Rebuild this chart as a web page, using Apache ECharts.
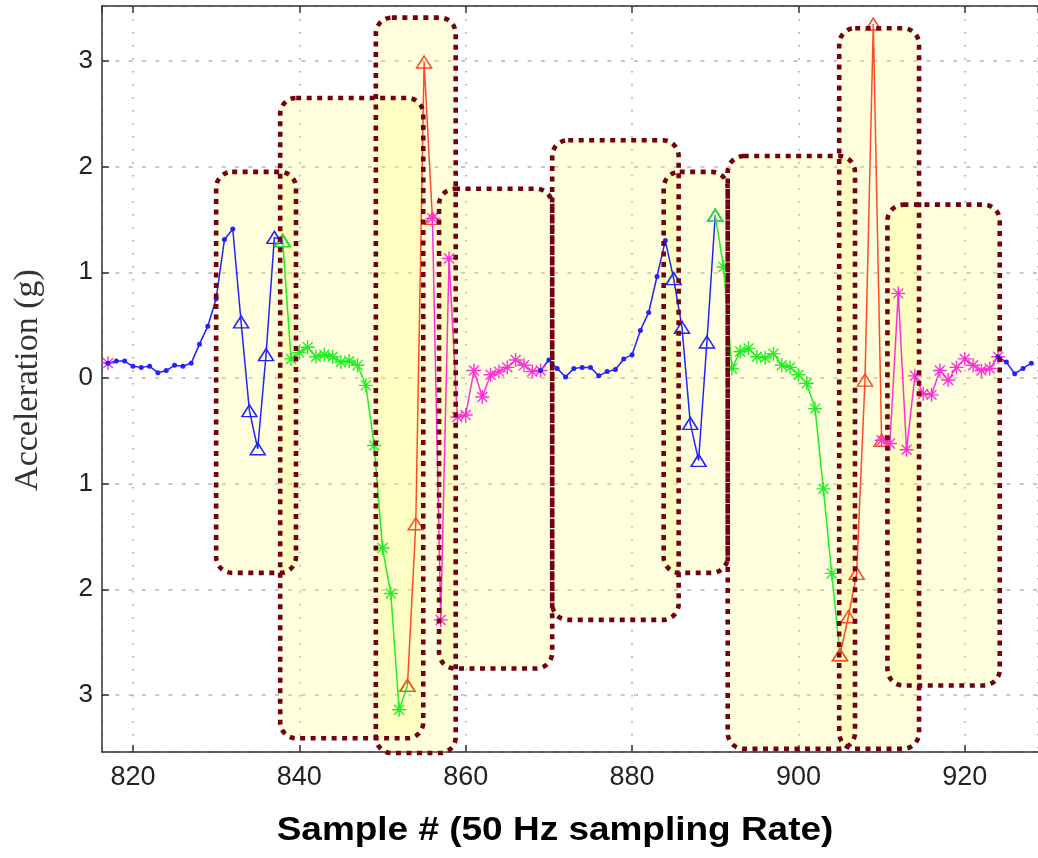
<!DOCTYPE html>
<html><head><meta charset="utf-8">
<script src="https://cdn.jsdelivr.net/npm/echarts@6/dist/echarts.min.js"></script>
<style>html,body{margin:0;padding:0;background:#fff}#c{width:1038px;height:858px}</style>
</head><body><div id="c"></div>
<script>
// ---- data: acceleration (g) per sample index, each segment starts at its *Start sample ----
const magenta0Start = 816;
const magenta0 = [0.15, 0.14];
const blueDotsAStart = 817;
const blueDotsA = [0.14, 0.16, 0.16, 0.11, 0.10, 0.11, 0.05, 0.07, 0.12, 0.11, 0.14, 0.32, 0.49, 0.75, 1.31, 1.41];
const blueTriAStart = 833;
const blueTriA = [0.53, -0.31, -0.67, 0.22, 1.33, 1.30];
const greenAStart = 838;
const greenA = [1.30, 0.18, 0.24, 0.29, 0.20, 0.22, 0.20, 0.15, 0.16, 0.12, -0.07, -0.64, -1.61, -2.04, -3.14, -2.91];
const redAStart = 853;
const redA = [-2.91, -1.38, 2.99, 1.51];
const magentaAStart = 856;
const magentaA = [1.51, -2.29, 1.13, -0.37, -0.35, 0.07, -0.18, 0.03, 0.06, 0.10, 0.17, 0.12, 0.06, 0.07];
const blueDotsBStart = 869;
const blueDotsB = [0.07, 0.17, 0.09, 0.01, 0.09, 0.10, 0.10, 0.02, 0.06, 0.08, 0.18, 0.22, 0.45, 0.62, 0.96, 1.30];
const blueTriBStart = 885;
const blueTriB = [0.94, 0.48, -0.43, -0.78, 0.34, 1.54];
const greenBStart = 890;
const greenB = [1.54, 1.05, 0.09, 0.25, 0.28, 0.20, 0.19, 0.23, 0.12, 0.10, 0.03, -0.05, -0.29, -1.05, -1.85, -2.62];
const redBStart = 905;
const redB = [-2.62, -2.26, -1.85, -0.02, 3.35, -0.59];
const magentaBStart = 910;
const magentaB = [-0.59, -0.62, 0.80, -0.68, 0.02, -0.15, -0.16, 0.07, -0.02, 0.10, 0.18, 0.12, 0.07, 0.09, 0.20];
const blueDotsCStart = 924;
const blueDotsC = [0.20, 0.15, 0.04, 0.09, 0.14];

// highlighted windows (sample from, sample to, top g, bottom g)
const boxFrom   = [830.0, 837.7, 849.2, 856.8, 870.4, 883.8, 891.5, 904.9, 910.7];
const boxTo     = [839.6, 854.9, 858.8, 870.4, 885.6, 891.5, 906.8, 914.5, 924.2];
const boxTop    = [1.95, 2.65, 3.41, 1.79, 2.25, 1.95, 2.10, 3.31, 1.64];
const boxBottom = [-1.845, -3.41, -3.55, -2.75, -2.29, -1.845, -3.51, -3.51, -2.91];

const xTitle = 'Sample # (50 Hz sampling Rate)';
const yTitle = 'Acceleration (g)';

// ---- styling ----
const C_BLUE = '#2222ff', C_GREEN = '#22ee22', C_RED = '#ff4a26', C_MAG = '#ff30d8';
const ASTER = 'path://M0,9L20,9L20,11L0,11Z M9,0L11,0L11,20L9,20Z M2.2,3.6L3.6,2.2L17.8,16.4L16.4,17.8Z M16.4,2.2L17.8,3.6L3.6,17.8L2.2,16.4Z';
const TRI = [15, 12];
const AST = 14;

function pts(start, vals) { return vals.map((v, i) => [start + i, v]); }
function hollowTri(color) { return { color: 'rgba(255,255,255,0)', borderColor: color, borderWidth: 1.5 }; }
function lineSeries(data, color, symbol, size, hollow) {
  return {
    type: 'line', data, symbol, symbolSize: size, showSymbol: true, showAllSymbol: true,
    z: 3, animation: false, clip: true,
    lineStyle: { color, width: 1.5 },
    itemStyle: hollow ? hollowTri(color) : { color, borderWidth: 0 },
    emphasis: { disabled: true }
  };
}
function greenSeries(start, vals) {
  const d = pts(start, vals).map((p, i, a) => (i === 0 || i === a.length - 1)
    ? { value: p, symbol: 'triangle', symbolSize: TRI, itemStyle: hollowTri(C_GREEN) } : p);
  return lineSeries(d, C_GREEN, ASTER, AST, false);
}
function triFrom(prevStart, prevVals, start, vals, color) {
  const d = [{ value: [prevStart + prevVals.length - 1, prevVals[prevVals.length - 1]], symbol: 'none' }].concat(pts(start, vals));
  return lineSeries(d, color, 'triangle', TRI, true);
}

const boxData = boxFrom.map((f, i) => [f, boxTo[i], boxTop[i], boxBottom[i]]);
function boxSeries(mode) {
  return {
    type: 'custom', data: boxData, z: mode === 'fill' ? 1 : 10, animation: false, clip: false,
    encode: { x: [0, 1], y: [2, 3] },
    renderItem: function (params, api) {
      const p1 = api.coord([api.value(0), api.value(2)]);
      const p2 = api.coord([api.value(1), api.value(3)]);
      const shape = { x: p1[0], y: p1[1], width: p2[0] - p1[0], height: p2[1] - p1[1], r: 16 };
      const style = mode === 'fill'
        ? { fill: 'rgba(255,255,100,0.21)', stroke: null }
        : { fill: null, stroke: '#700012', lineWidth: 4.6, lineDash: [5, 5.5] };
      return { type: 'rect', shape, style, silent: true };
    }
  };
}

const chart = echarts.init(document.getElementById('c'), null, { renderer: 'canvas' });
const axisCommon = { type: 'value', min: 816.28, max: 928.8, splitNumber: 6 };
chart.setOption({
  animation: false,
  backgroundColor: '#ffffff',
  grid: { left: 102, top: 6, width: 938, height: 746 },
  xAxis: [
    Object.assign({}, axisCommon, {
      position: 'bottom',
      axisLine: { show: true, onZero: false, lineStyle: { color: '#333', width: 1.5 } },
      axisTick: { show: true, inside: true, length: 7, lineStyle: { color: '#333', width: 1.5 } },
      axisLabel: { fontSize: 27, color: '#222', margin: 12, fontFamily: '"Liberation Sans", Arial', showMinLabel: false, showMaxLabel: false },
      splitLine: { show: true, lineStyle: { color: '#9a9a9a', width: 1.5, type: [1.5, 11.5] } }
    }),
    Object.assign({}, axisCommon, {
      position: 'top',
      axisLine: { show: true, onZero: false, lineStyle: { color: '#333', width: 1.5 } },
      axisTick: { show: true, inside: true, length: 7, lineStyle: { color: '#333', width: 1.5 } },
      axisLabel: { show: false }, splitLine: { show: false }
    })
  ],
  yAxis: {
    type: 'value', min: -3.54, max: 3.52, splitNumber: 7,
    axisLine: { show: true, onZero: false, lineStyle: { color: '#333', width: 1.5 } },
    axisTick: { show: true, inside: true, length: 7, lineStyle: { color: '#333', width: 1.5 } },
    axisLabel: { fontSize: 26, color: '#222', margin: 9, fontFamily: '"Liberation Sans", Arial', showMinLabel: false, showMaxLabel: false,
      formatter: v => String(Math.abs(Math.round(v))) },
    splitLine: { show: true, lineStyle: { color: '#b5b5b5', width: 1.5, type: [4, 9.3] } }
  },
  graphic: [
    { type: 'text', x: 555, y: 831, scaleX: 1.12, silent: true,
      style: { text: xTitle, font: 'bold 33px "Liberation Sans", Arial', fill: '#000', align: 'center', verticalAlign: 'middle' } },
    { type: 'text', x: 28, y: 380, rotation: Math.PI / 2, silent: true,
      style: { text: yTitle, font: '34px "Liberation Serif", "Times New Roman", serif', fill: '#333', align: 'center', verticalAlign: 'middle' } }
  ],
  series: [
    boxSeries('fill'),
    lineSeries(pts(magenta0Start, magenta0), C_MAG, ASTER, AST, false),
    lineSeries(pts(blueDotsAStart, blueDotsA), C_BLUE, 'circle', 5, false),
    triFrom(blueDotsAStart, blueDotsA, blueTriAStart, blueTriA, C_BLUE),
    greenSeries(greenAStart, greenA),
    lineSeries(pts(redAStart, redA), C_RED, 'triangle', TRI, true),
    lineSeries(pts(magentaAStart, magentaA), C_MAG, ASTER, AST, false),
    lineSeries(pts(blueDotsBStart, blueDotsB), C_BLUE, 'circle', 5, false),
    triFrom(blueDotsBStart, blueDotsB, blueTriBStart, blueTriB, C_BLUE),
    greenSeries(greenBStart, greenB),
    lineSeries(pts(redBStart, redB), C_RED, 'triangle', TRI, true),
    lineSeries(pts(magentaBStart, magentaB), C_MAG, ASTER, AST, false),
    lineSeries(pts(blueDotsCStart, blueDotsC), C_BLUE, 'circle', 5, false),
    boxSeries('border')
  ]
});
</script></body></html>
